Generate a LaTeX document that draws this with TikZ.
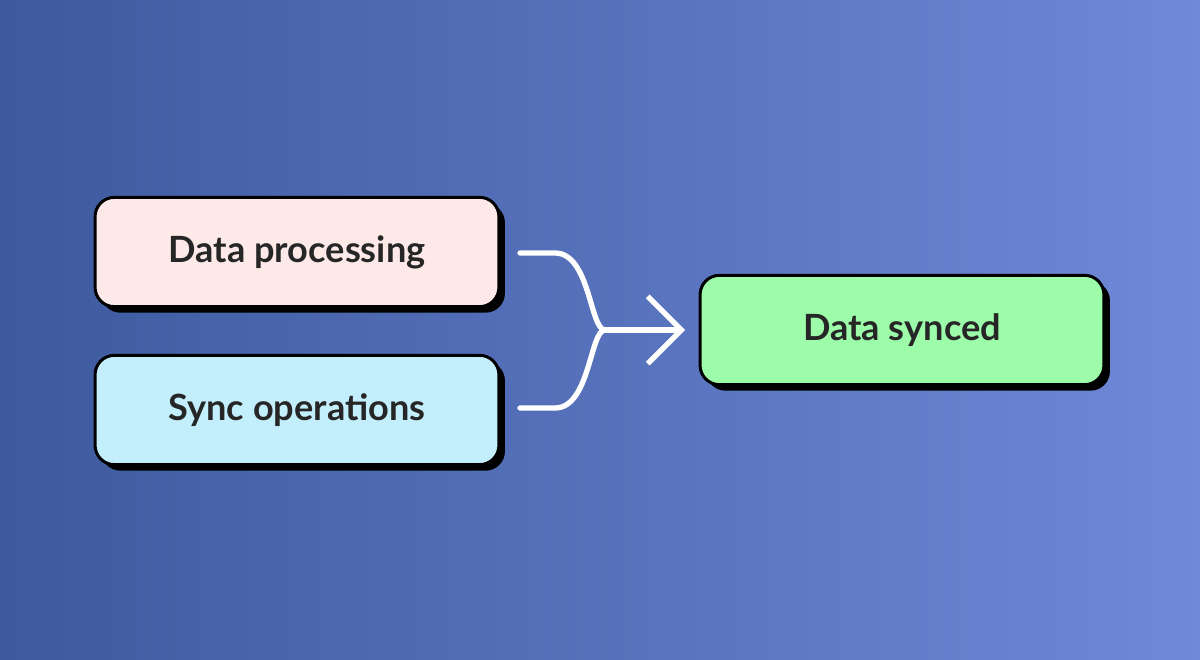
\documentclass[tikz,border=0pt]{standalone}
\usepackage{fontspec}
\setmainfont{Lato}
\usetikzlibrary{positioning,shadows,arrows.meta}
\definecolor{bgleft}{HTML}{3D5A9E}
\definecolor{bgright}{HTML}{7089D8}
\definecolor{pinkbox}{HTML}{FDE9E7}
\definecolor{bluebox}{HTML}{C3EFFD}
\definecolor{greenbox}{HTML}{9DFCA9}
\tikzset{
    box/.style={draw=black, line width=1.7pt, rounded corners=11pt,
        minimum width=229pt, minimum height=62pt, font=\fontsize{20.5}{24}\selectfont\bfseries,
        text=black!85, drop shadow={shadow xshift=3.4pt, shadow yshift=-3.4pt, opacity=1, fill=black}},
    flow/.style={draw=white, line width=3pt, line cap=round}
}
\begin{document}
\begin{tikzpicture}[x=0.567pt,y=-0.567pt]
    \shade[left color=bgleft, right color=bgright] (0,0) rectangle (1200,660);
    \useasboundingbox (0,0) rectangle (1200,660);
    % boxes
    \node[box, fill=pinkbox] (proc) at (297,252) {\raisebox{-3pt}{Data processing}};
    \node[box, fill=bluebox] (sync) at (297,410) {\raisebox{-3pt}{Sync operations}};
    \node[box, fill=greenbox] (done) at (902,330) {\raisebox{-3pt}{Data synced}};
    % merging connector
    \coordinate (a) at (520,253);
    \coordinate (b) at (520,408);
    \coordinate (m) at (605,330);
    \coordinate (t) at (685,330);
    \draw[flow] (a) -- (555,253) .. controls (590,253) and (590,330) .. (m);
    \draw[flow] (b) -- (555,408) .. controls (590,408) and (590,330) .. (m);
    \draw[flow, -{Straight Barb[length=19pt, width=38pt, line width=3pt]}] (m) -- (t);
\end{tikzpicture}
\end{document}
